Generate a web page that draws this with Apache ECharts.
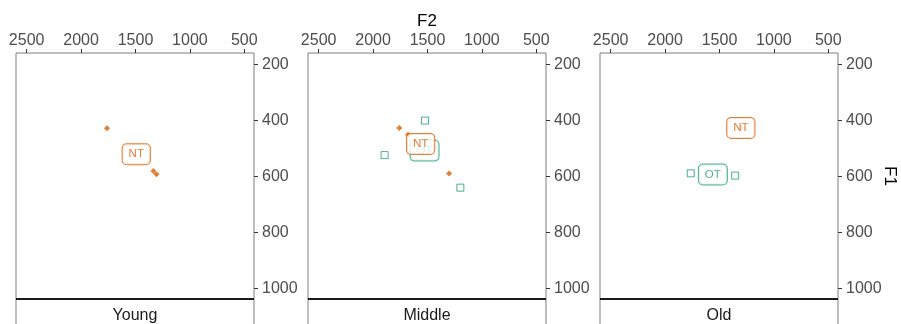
<!DOCTYPE html>
<html>
<head>
<meta charset="utf-8">
<script src="https://cdn.jsdelivr.net/npm/echarts@6/dist/echarts.min.js"></script>
<style>
  html, body { margin: 0; padding: 0; background: #fff; }
  #chart { width: 901px; height: 324px; }
</style>
</head>
<body>
<div id="chart"></div>
<script>
// ---- data ----
const facets = ['Young', 'Middle', 'Old'];
const xTicks = [500, 1000, 1500, 2000, 2500];
const yTicks = [200, 400, 600, 800, 1000];
const xRange = [411, 2598];
const yRange = [160, 1037];

const ntF2 = [[1762, 1335, 1307], [1759, 1679, 1302], [1304]];
const ntF1 = [[428, 581, 592], [427, 451, 590], [427]];
const otF2 = [[], [1523, 1894, 1198], [1764, 1356]];
const otF1 = [[], [401, 524, 640], [589, 597]];

const ntLabelF2 = [1493, 1563, 1304];
const ntLabelF1 = [521, 484, 427];
const otLabelF2 = [null, 1527, 1561];
const otLabelF1 = [null, 508, 593];

// ---- styling / layout ----
const FONT = 'Liberation Sans, Arial, Helvetica, sans-serif';
const NT_COLOR = '#D95F02';
const OT_COLOR = '#1B9E77';
const BORDER = '#7f7f7f';
const gridLefts = [16, 308, 600];
const gridTop = 53, gridW = 238, gridH = 246;

const chart = echarts.init(document.getElementById('chart'), null, { renderer: 'canvas' });

const grids = [], xAxes = [], yAxes = [], series = [], graphics = [];

function pairs(xs, ys) { return xs.map((x, i) => [x, ys[i]]); }
const plain = v => String(v);

function labelStyle(text, color) {
  return {
    show: true, position: 'inside', formatter: text,
    color: color, fontFamily: FONT, fontSize: 11.5, lineHeight: 12,
    backgroundColor: '#fff', borderColor: color, borderWidth: 1,
    borderRadius: 4, padding: [4, 6, 4, 6]
  };
}

facets.forEach((f, i) => {
  const L = gridLefts[i];
  grids.push({ left: L, top: gridTop, width: gridW, height: gridH,
    show: true, borderColor: BORDER, borderWidth: 1, backgroundColor: '#fff' });
  xAxes.push({
    gridIndex: i, type: 'value', position: 'top', inverse: true,
    min: xRange[0], max: xRange[1],
    axisLine: { show: false },
    axisTick: { show: true, length: 4, customValues: xTicks, lineStyle: { color: '#333', width: 1 } },
    axisLabel: { show: true, customValues: xTicks, formatter: plain, color: '#4d4d4d', fontFamily: FONT, fontSize: 16, margin: 4 },
    splitLine: { show: false }
  });
  yAxes.push({
    gridIndex: i, type: 'value', position: 'right', inverse: true,
    min: yRange[0], max: yRange[1],
    axisLine: { show: false },
    axisTick: { show: true, length: 4, customValues: yTicks, lineStyle: { color: '#333', width: 1 } },
    axisLabel: { show: true, customValues: yTicks, formatter: plain, color: '#4d4d4d', fontFamily: FONT, fontSize: 16, margin: 8 },
    splitLine: { show: false }
  });
  // OT points (hollow squares)
  series.push({
    type: 'scatter', xAxisIndex: i, yAxisIndex: i, z: 2,
    data: pairs(otF2[i], otF1[i]),
    symbol: 'rect', symbolSize: 7,
    itemStyle: { color: '#fff', borderColor: OT_COLOR, borderWidth: 1 },
    silent: true
  });
  // NT points (filled diamonds)
  series.push({
    type: 'scatter', xAxisIndex: i, yAxisIndex: i, z: 2,
    data: pairs(ntF2[i], ntF1[i]),
    symbol: 'diamond', symbolSize: 6,
    itemStyle: { color: NT_COLOR },
    silent: true
  });
  // OT label
  if (otLabelF2[i] !== null) {
    series.push({
      type: 'scatter', xAxisIndex: i, yAxisIndex: i, z: 3,
      data: [[otLabelF2[i], otLabelF1[i]]],
      symbol: 'circle', symbolSize: 1,
      itemStyle: { color: 'rgba(0,0,0,0)' },
      label: labelStyle('OT', OT_COLOR), silent: true
    });
  }
  // NT label
  series.push({
    type: 'scatter', xAxisIndex: i, yAxisIndex: i, z: 4,
    data: [[ntLabelF2[i], ntLabelF1[i]]],
    symbol: 'circle', symbolSize: 1,
    itemStyle: { color: 'rgba(0,0,0,0)' },
    label: labelStyle('NT', NT_COLOR), silent: true
  });
  // facet strip at the bottom
  graphics.push({
    type: 'rect', z: 10,
    shape: { x: L, y: gridTop + gridH, width: gridW, height: 40 },
    style: { fill: '#fff', stroke: BORDER, lineWidth: 1 }
  });
  graphics.push({
    type: 'line', z: 11,
    shape: { x1: L, y1: gridTop + gridH, x2: L + gridW, y2: gridTop + gridH },
    style: { stroke: '#1a1a1a', lineWidth: 1.8 }
  });
  graphics.push({
    type: 'text', z: 12,
    style: { text: f, x: L + gridW / 2, y: 316, textAlign: 'center', textVerticalAlign: 'middle',
      fill: '#1a1a1a', font: '16px ' + FONT }
  });
});

// axis titles
graphics.push({
  type: 'text', z: 12,
  style: { text: 'F2', x: gridLefts[1] + gridW / 2, y: 21, textAlign: 'center', textVerticalAlign: 'middle',
    fill: '#000', font: '17px ' + FONT }
});
graphics.push({
  type: 'text', z: 12, x: 890, y: 176, rotation: -Math.PI / 2,
  style: { text: 'F1', x: 0, y: 0, textAlign: 'center', textVerticalAlign: 'middle',
    fill: '#000', font: '17px ' + FONT }
});

chart.setOption({
  animation: false,
  backgroundColor: '#fff',
  grid: grids,
  xAxis: xAxes,
  yAxis: yAxes,
  series: series,
  graphic: graphics
});
</script>
</body>
</html>
